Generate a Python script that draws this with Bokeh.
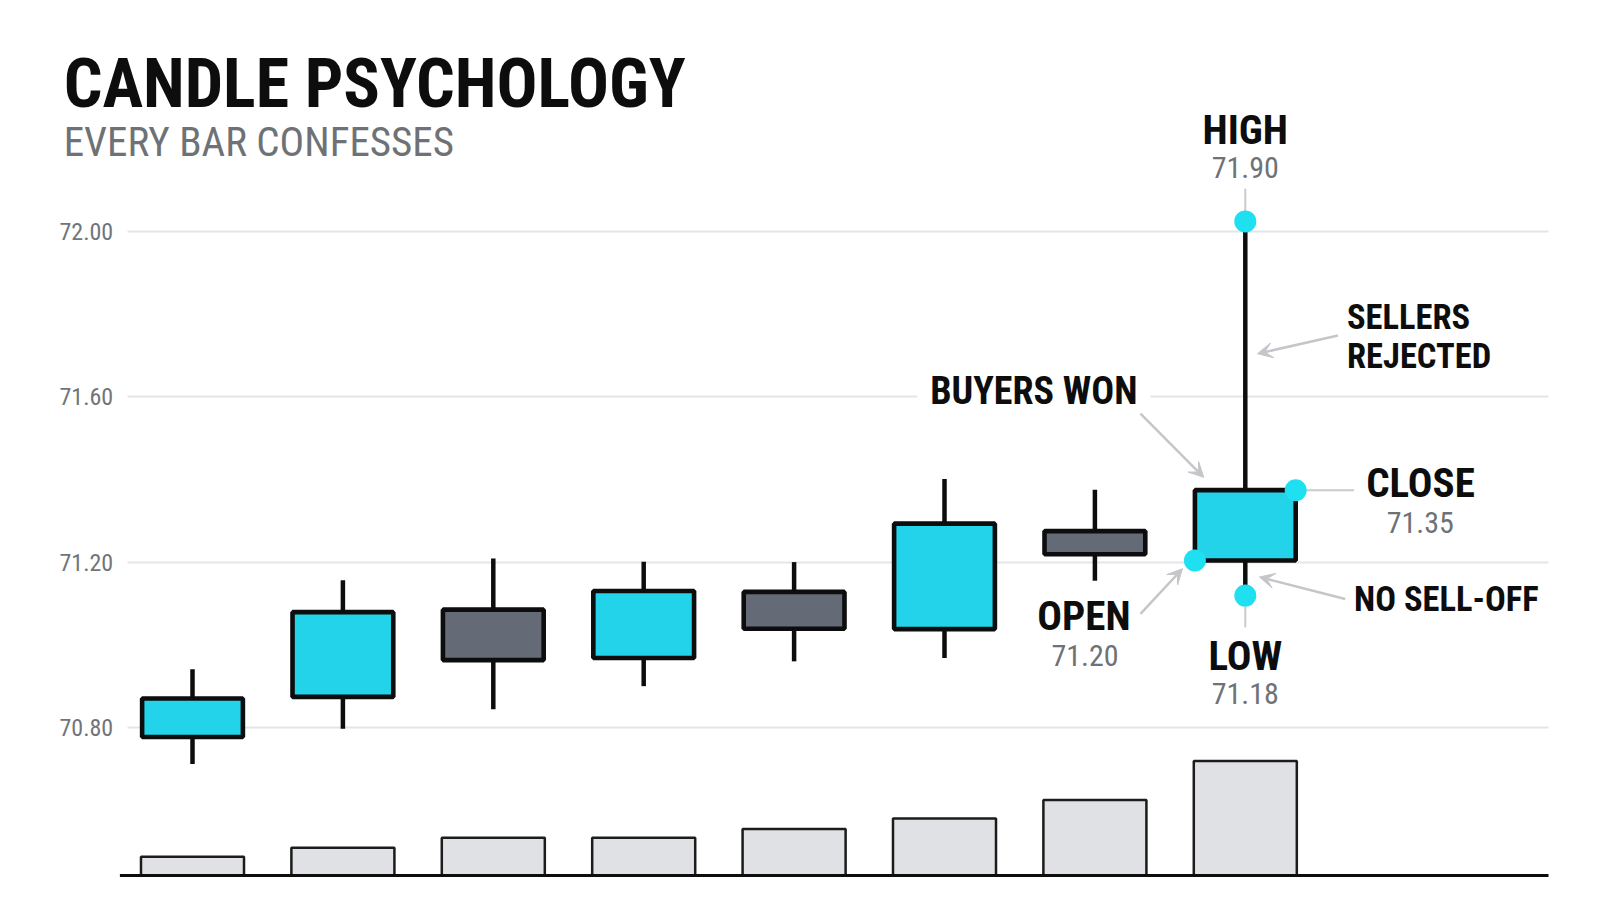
from bokeh.plotting import figure
from bokeh.models import (Range1d, FixedTicker, NumeralTickFormatter, Arrow, VeeHead,
                          LinearAxis, Grid)
from bokeh.core.properties import value
from bokeh.embed import file_html
from bokeh.resources import INLINE

# ---------------- data ----------------
candle_idx = [0, 1, 2, 3, 4, 5, 6, 7]
opens  = [70.777, 70.874, 71.085, 70.968, 71.128, 71.038, 71.275, 71.204]
closes = [70.870, 71.079, 70.963, 71.130, 71.039, 71.293, 71.219, 71.374]
highs  = [70.941, 71.156, 71.209, 71.201, 71.200, 71.401, 71.375, 72.024]
lows   = [70.712, 70.797, 70.844, 70.900, 70.960, 70.968, 71.155, 71.119]
volume_k = [1.875, 2.775, 3.775, 3.775, 4.65, 5.70, 7.55, 11.45]
price_ticks = [70.80, 71.20, 71.60, 72.00]

title_text = "CANDLE PSYCHOLOGY"
subtitle_text = "EVERY BAR CONFESSES"
focus = 7
callout_names = ["HIGH", "CLOSE", "OPEN", "LOW"]
callout_values = ["71.90", "71.35", "71.20", "71.18"]
story_texts = ["BUYERS WON", "SELLERS", "REJECTED", "NO SELL-OFF"]

# ---------------- styles ----------------
FONT = "Roboto Condensed"
CYAN = "#22d3ea"
DOT = "#1fe0f1"
GRAY_BODY = "#646a76"
INK = "#0d0d0d"
MUTED = "#6e7277"
GRID = "#e3e5e8"
ARROW = "#c4c6c9"
LEADER = "#c9cbce"
VOL_FILL = "#dfe1e4"
BODY_W = 0.67
VOL_W = 0.685
PLOT_X0, PLOT_X1 = -0.4342, 9.016      # extent of the price panel (x units)


def label(fig, xs, ys, texts, size, bold=False, color=INK, align="center"):
    fig.text(x=xs, y=ys, text=texts, text_font=value(FONT),
             text_font_size=f"{size}px", text_font_style="bold" if bold else "normal",
             text_color=color, text_align=align, text_baseline="alphabetic",
             y_offset=-round(0.335 * size))


p = figure(width=1584, height=898, output_backend="svg", toolbar_location=None,
           x_range=Range1d(-1.2766, 9.2553), y_range=Range1d(70.3865, 72.5582),
           x_axis_location=None, y_axis_location=None,
           min_border_left=0, min_border_right=0, min_border_top=0, min_border_bottom=0)
p.outline_line_color = None
p.background_fill_color = "white"
p.border_fill_color = "white"
for g in p.grid:
    g.visible = False

# price axis + grid
yaxis = LinearAxis(fixed_location=PLOT_X0, ticker=FixedTicker(ticks=price_ticks),
                   formatter=NumeralTickFormatter(format="0.00"))
yaxis.axis_line_color = None
yaxis.major_tick_line_color = None
yaxis.minor_tick_line_color = None
yaxis.major_tick_in = 0
yaxis.major_tick_out = 0
yaxis.major_label_standoff = 14
yaxis.major_label_text_font = FONT
yaxis.major_label_text_font_size = "24px"
yaxis.major_label_text_color = "#717478"
p.add_layout(yaxis, "left")

if "cross_bounds" in Grid.properties():
    p.add_layout(Grid(dimension=1, ticker=FixedTicker(ticks=price_ticks),
                      grid_line_color=GRID, grid_line_width=2,
                      cross_bounds=(PLOT_X0, PLOT_X1)))
else:
    p.segment(x0=PLOT_X0, x1=PLOT_X1, y0=price_ticks, y1=price_ticks,
              line_color=GRID, line_width=2)

p.extra_y_ranges = {"vol": Range1d(-2.3, 87.5)}

# volume bars + baseline
p.vbar(x=candle_idx, top=volume_k, bottom=0, width=VOL_W, y_range_name="vol",
       fill_color=VOL_FILL, line_color="#1c1c1c", line_width=2.5)
p.segment(x0=[-0.4827], x1=[PLOT_X1], y0=[0], y1=[0], y_range_name="vol",
          line_color=INK, line_width=3)

# candles
up = [c >= o for o, c in zip(opens, closes)]
body_colors = [CYAN if u else GRAY_BODY for u in up]
p.segment(x0=candle_idx, y0=lows, x1=candle_idx, y1=highs, line_color=INK, line_width=4.5)
p.vbar(x=candle_idx, top=[max(o, c) for o, c in zip(opens, closes)],
       bottom=[min(o, c) for o, c in zip(opens, closes)], width=BODY_W,
       fill_color=body_colors, line_color=INK, line_width=4.6)

# white mask behind "BUYERS WON"
p.quad(left=[4.819], right=[6.370], bottom=[71.567], top=[71.639],
       fill_color="white", line_color=None)

# leader lines for the focus candle
fo, fc, fh, fl = opens[focus], closes[focus], highs[focus], lows[focus]
p.segment(x0=[focus, focus + BODY_W / 2, focus], y0=[72.1028, fc, fl],
          x1=[focus, 7.723, focus], y1=[fh, fc, 71.042],
          line_color=LEADER, line_width=2)

# arrows
arrows = [
    (6.303, 71.559, 6.724, 71.405),   # buyers won
    (7.616, 71.748, 7.081, 71.704),   # sellers rejected
    (6.303, 71.075, 6.582, 71.184),   # open
    (7.664, 71.111, 7.094, 71.164),   # no sell-off
]
for xs, ys, xe, ye in arrows:
    p.add_layout(Arrow(x_start=xs, y_start=ys, x_end=xe, y_end=ye,
                       line_color=ARROW, line_width=2.5,
                       end=VeeHead(size=15, fill_color=ARROW, line_color=ARROW, line_width=1)))

# OHLC dots of the focus candle
p.scatter(x=[focus, focus + BODY_W / 2, focus - BODY_W / 2, focus],
          y=[fh, fc, fo, fl], size=22, fill_color=DOT, line_color=None)

# title & subtitle
label(p, [-0.8564], [72.3018], [title_text], 68, bold=True, align="left")
label(p, [-0.8564], [72.1833], [subtitle_text], 41, color=MUTED, align="left")

# callouts: names + values
label(p, [focus, 8.165, 5.927, focus], [72.2116, 71.357, 71.036, 70.940],
      callout_names, 41, bold=True)
label(p, [focus, 8.163, 5.934, focus], [72.1294, 71.272, 70.950, 70.857],
      callout_values, 30, color=MUTED)

# story labels
label(p, [5.594], [71.583], [story_texts[0]], 38, bold=True)
label(p, [7.676, 7.676, 7.723], [71.764, 71.669, 71.081], story_texts[1:], 34.5,
      bold=True, align="left")

open("out.html", "w").write(file_html(p, INLINE))
